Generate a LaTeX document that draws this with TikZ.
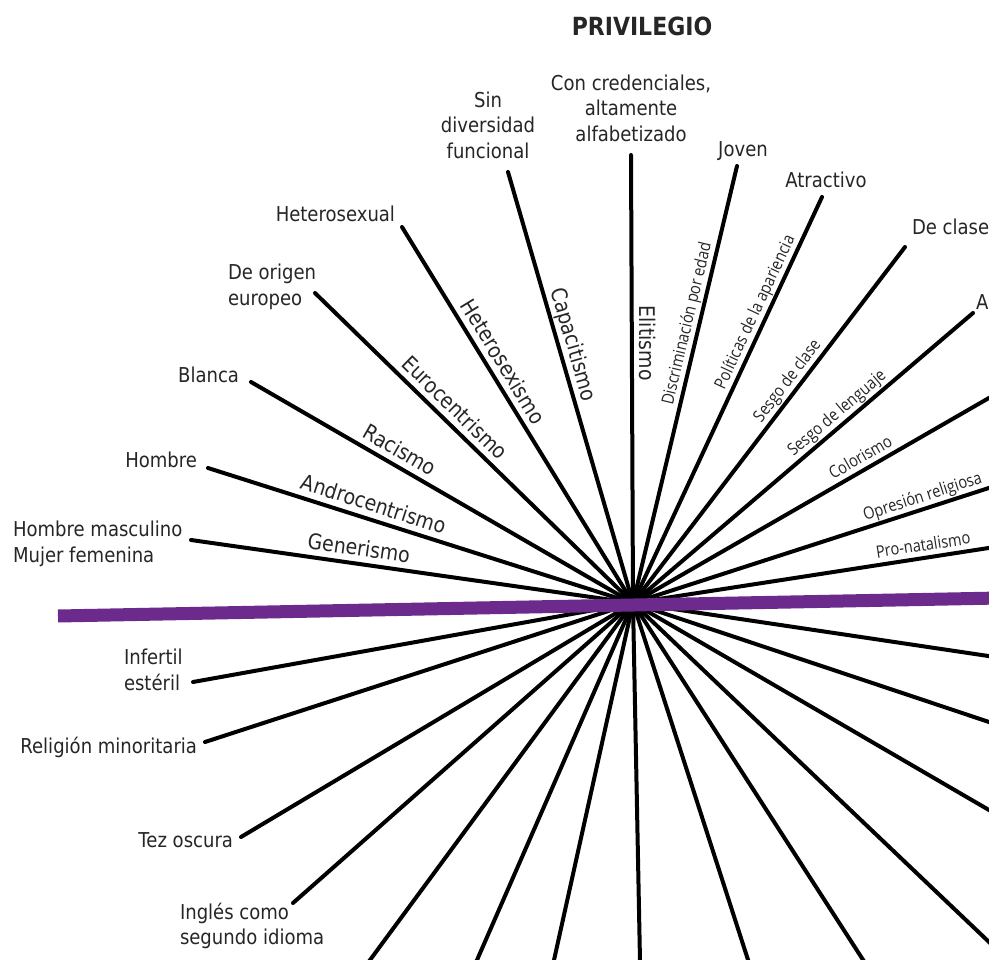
\documentclass[tikz,border=0pt]{standalone}
\usepackage{fontspec}
\setmainfont{DejaVu Sans}[FakeStretch=0.88]
\newfontfamily\rfont{Open Sans}[FakeStretch=0.86]
\definecolor{purp}{RGB}{108,42,140}
\definecolor{txt}{RGB}{38,38,38}
\begin{document}
\begin{tikzpicture}[x=1pt,y=-1pt,
  ray/.style={line width=4pt, line cap=round, black},
  outer/.style={font=\fontsize{20.5}{25.5}\selectfont, text=txt, inner sep=0pt, outer sep=0pt},
  lslab/.style={font=\fontsize{21.5}{26}\selectfont, text=txt, sloped, inner sep=0pt, outer sep=0pt, text depth=0pt, above=8pt},
  rslab/.style={font=\rfont\fontsize{17}{20}\selectfont, text=txt, sloped, inner sep=0pt, outer sep=0pt, text depth=0pt, above=7pt},
  band/.style={line width=13pt, purp}
]
\useasboundingbox (0,0) rectangle (989,960);
\fill[white] (0,0) rectangle (989,960);

% centre and outer ends
\coordinate (C) at (633,603);
\coordinate (u1) at (191,540);
\coordinate (u2) at (208,468);
\coordinate (u3) at (251,382);
\coordinate (u4) at (315,293);
\coordinate (u5) at (402,227);
\coordinate (u6) at (508,172);
\coordinate (u7) at (631,155);
\coordinate (u8) at (737,166);
\coordinate (u9) at (822,197);
\coordinate (u10) at (905,247);
\coordinate (u11) at (973,313);
\coordinate (u12) at (995,394.5);
\coordinate (u13) at (995,486);
\coordinate (u14) at (995,547);
\coordinate (l1) at (193,682);
\coordinate (l2) at (205,742);
\coordinate (l3) at (241,837);
\coordinate (l4) at (293,903);
\coordinate (l5) at (365.6,966);
\coordinate (l6) at (474.4,966);
\coordinate (l7) at (552.7,966);
\coordinate (l8) at (640.1,966);
\coordinate (l9) at (750,966);
\coordinate (l10) at (867,966);
\coordinate (l11) at (995,947.7);
\coordinate (l12) at (995,813.5);
\coordinate (l13) at (995,724);
\coordinate (l14) at (995,657);
\coordinate (pl) at (58,616);
\coordinate (pr) at (1000,598);

% outer labels
\node[outer, font=\bfseries\fontsize{25}{30}\selectfont, anchor=base] (title) at (642,36) {PRIVILEGIO};
\node[outer, align=center] (cred) at (631,108) {Con credenciales,\\altamente\\alfabetizado};
\node[outer, align=center] (sindiv) at (488,125) {Sin\\diversidad\\funcional};
\node[outer, anchor=base] (joven) at (743,157) {Joven};
\node[outer, anchor=base] (atr) at (826,188) {Atractivo};
\node[outer, anchor=base west] (clase) at (912,235) {De clase};
\node[outer, anchor=base west] (anglo) at (976,310) {A};
\node[outer, anchor=base east] (hetero) at (395,222) {Heterosexual};
\node[outer, anchor=west, align=left] (euro) at (228,287) {De origen\\europeo};
\node[outer, anchor=base east] (blanca) at (239,383) {Blanca};
\node[outer, anchor=base east] (hombre) at (197,467) {Hombre};
\node[outer, anchor=west, align=left] (masc) at (13,544) {Hombre masculino\\Mujer femenina};
\node[outer, anchor=west, align=left] (infertil) at (124,670) {Infertil\\estéril};
\node[outer, anchor=base east] (relig) at (197,753) {Religión minoritaria};
\node[outer, anchor=base east] (tez) at (233,847) {Tez oscura};
\node[outer, anchor=west, align=left] (ingles) at (180,926) {Inglés como\\segundo idioma};

% upper rays with labels
\draw[ray] (u1) -- (C) node[lslab, pos=.375] (gen) {Generismo};
\draw[ray] (u2) -- (C) node[lslab, pos=.379] (andro) {Androcentrismo};
\draw[ray] (u3) -- (C) node[lslab, pos=.369] (rac) {Racismo};
\draw[ray] (u4) -- (C) node[lslab, pos=.406] (eurc) {Eurocentrismo};
\draw[ray] (u5) -- (C) node[lslab, pos=.38] (hsx) {Heterosexismo};
\draw[ray] (u6) -- (C) node[lslab, pos=.41] (cap) {Capacitismo};
\draw[ray] (u7) -- (C) node[lslab, pos=.42] (elit) {Elitismo};
\draw[ray] (C) -- (u8) node[rslab, pos=.633] (edad) {Discriminación por edad};
\draw[ray] (C) -- (u9) node[rslab, pos=.704] (apar) {Políticas de la apariencia};
\draw[ray] (C) -- (u10) node[rslab, pos=.603] (sclase) {Sesgo de clase};
\draw[ray] (C) -- (u11) node[rslab, pos=.623] (sleng) {Sesgo de lenguaje};
\draw[ray] (C) -- (u12) node[rslab, pos=.646] (color) {Colorismo};
\draw[ray] (C) -- (u13) node[rslab, pos=.81] (opres) {Opresión religiosa};
\draw[ray] (C) -- (u14) node[rslab, pos=.807] (natal) {Pro-natalismo};

% lower rays
\foreach \p in {l1,l2,l3,l4,l5,l6,l7,l8,l9,l10,l11,l12,l13,l14}
  \draw[ray] (\p) -- (C);

% purple horizon
\draw[band] (pl) -- (pr);
\end{tikzpicture}
\end{document}
